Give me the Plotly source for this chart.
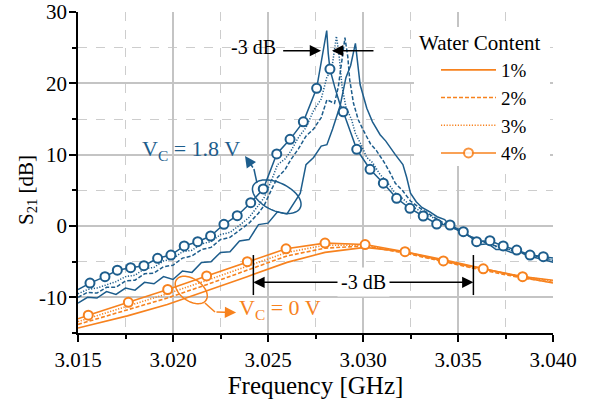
import numpy as np
import plotly.graph_objects as go

BLUE = "#1d5d8c"
ORANGE = "#f7821e"
FONT = "Liberation Serif, Times New Roman, serif"

# ---------------- data: V_C = 1.8 V (blue) ----------------
b1_x = [3.0150, 3.0155, 3.0160, 3.0165, 3.0170, 3.0175, 3.0180, 3.0185, 3.0190, 3.0195,
        3.0200, 3.0205, 3.0210, 3.0215, 3.0220, 3.0225, 3.0230, 3.0235, 3.0240, 3.0245,
        3.0250, 3.0255, 3.0260, 3.0263, 3.0267, 3.0270, 3.0274, 3.0278, 3.0281, 3.0284,
        3.0288, 3.0291, 3.02935, 3.0296, 3.02985, 3.0302, 3.0305, 3.0309, 3.0312, 3.0317,
        3.0321, 3.0323, 3.0325, 3.0328, 3.0331, 3.0335, 3.0339, 3.0343, 3.0346, 3.0350,
        3.0355, 3.0359, 3.0362, 3.0366, 3.0370, 3.0374, 3.0378, 3.0383, 3.0387, 3.0391,
        3.0395, 3.0400]
b1_y = [-10.8, -10.0, -10.1, -9.2, -9.6, -8.7, -9.0, -7.9, -8.1, -7.1,
        -7.5, -6.3, -6.5, -5.1, -5.0, -3.7, -3.6, -2.1, -1.9, 0.2,
        0.4, 2.0, 1.7, 2.9, 4.6, 8.6, 9.6, 11.2, 11.4, 13.6,
        16.9, 20.8, 22.5, 25.6, 19.8, 16.5, 14.6, 12.8, 11.9, 10.0,
        8.6, 6.8, 4.6, 3.4, 2.6, 2.0, 1.3, 0.9, -0.1, -0.5,
        -1.3, -1.9, -2.6, -2.5, -3.3, -3.3, -3.7, -3.7, -4.2, -4.4,
        -4.7, -5.1]

b2_x = [3.0150, 3.0155, 3.0160, 3.0165, 3.0170, 3.0175, 3.0180, 3.0185, 3.0190, 3.0195,
        3.0200, 3.0205, 3.0210, 3.0215, 3.0220, 3.0225, 3.0230, 3.0235, 3.0240, 3.0245,
        3.0248, 3.0252, 3.0255, 3.0259, 3.0262, 3.0266, 3.0270, 3.0274, 3.0278, 3.0281,
        3.0285, 3.0287, 3.0289, 3.02905, 3.0292, 3.0293, 3.0295, 3.02975, 3.0300, 3.0304,
        3.0307, 3.0311, 3.0314, 3.0317, 3.0321, 3.0325, 3.0330, 3.0335, 3.0340, 3.0345,
        3.0350, 3.0355, 3.0360, 3.0365, 3.0370, 3.0375, 3.0380, 3.0385, 3.0390, 3.0395,
        3.0400]
b2_y = [-10.0, -9.3, -9.4, -8.6, -8.6, -7.7, -7.6, -6.7, -6.6, -5.7,
        -5.5, -4.5, -4.2, -3.3, -3.0, -1.9, -1.6, -0.6, 0.4, 1.8,
        2.9, 5.2, 6.8, 7.9, 9.3, 10.8, 12.6, 13.6, 15.2, 17.7,
        17.2, 19.5, 23.3, 26.4, 23.7, 20.5, 17.2, 14.9, 13.5, 11.5,
        10.6, 9.0, 7.6, 6.0, 4.9, 3.5, 2.5, 1.6, 0.8, 0.1,
        -0.6, -1.3, -1.8, -2.4, -2.8, -3.2, -3.5, -3.9, -4.1, -4.5,
        -4.8]

b3_x = [3.0150, 3.0155, 3.0160, 3.0165, 3.0170, 3.0175, 3.0180, 3.0185, 3.0190, 3.0195,
        3.0200, 3.0205, 3.0210, 3.0215, 3.0220, 3.0225, 3.0230, 3.0235, 3.0240, 3.0245,
        3.0248, 3.0252, 3.0255, 3.0259, 3.0262, 3.0266, 3.0270, 3.0274, 3.0278, 3.0281,
        3.02835, 3.0286, 3.02873, 3.0289, 3.0291, 3.0294, 3.0296, 3.0299, 3.0302, 3.0305,
        3.0309, 3.0312, 3.0317, 3.0321, 3.0325, 3.0330, 3.0335, 3.0340, 3.0345, 3.0350,
        3.0355, 3.0360, 3.0365, 3.0370, 3.0375, 3.0380, 3.0385, 3.0390, 3.0395, 3.0400]
b3_y = [-9.5, -8.9, -8.7, -8.2, -7.8, -7.1, -6.9, -6.0, -5.8, -4.9,
        -4.6, -3.6, -3.4, -2.5, -2.2, -1.2, -0.9, 0.1, 1.2, 2.9,
        4.0, 6.5, 8.6, 9.4, 10.5, 12.4, 13.8, 16.2, 17.8, 20.9,
        21.9, 26.6, 24.2, 19.5, 16.7, 14.9, 13.0, 11.4, 9.6, 8.9,
        7.2, 6.4, 4.6, 3.8, 2.9, 2.1, 1.5, 0.6, 0.0, -0.7,
        -1.2, -2.0, -2.2, -2.9, -3.1, -3.6, -3.8, -4.2, -4.4, -4.9]

b4_x = [3.0150, 3.01563, 3.01642, 3.01707, 3.01777, 3.01847, 3.01919, 3.01989, 3.02059, 3.0213,
        3.02198, 3.02268, 3.02338, 3.02409, 3.02475, 3.02546, 3.02616, 3.02686, 3.02756, 3.02782,
        3.02798, 3.02809, 3.02817, 3.02826, 3.02851, 3.02877, 3.02896, 3.02967, 3.03037, 3.03107,
        3.03177, 3.03247, 3.03317, 3.03388, 3.03458, 3.03528, 3.03598, 3.03668, 3.03738, 3.03809,
        3.03879, 3.03949, 3.0400]
b4_y = [-8.9, -8.0, -7.1, -6.2, -5.85, -5.57, -4.53, -4.07, -2.8, -2.2,
        -1.4, 0.24, 1.44, 3.27, 5.19, 10.1, 12.15, 14.6, 19.3, 23.3,
        26.0, 27.4, 24.2, 22.0, 19.5, 17.2, 16.0, 10.75, 7.95, 6.0,
        3.88, 2.48, 1.4, 0.28, 0.14, -0.8, -2.2, -2.06, -2.8, -3.37,
        -4.07, -4.3, -4.5]
# measured samples drawn as circles on the 4 % curve
b4m_x = [3.01563, 3.01642, 3.01707, 3.01777, 3.01847, 3.01919, 3.01989, 3.02059, 3.0213,
         3.02198, 3.02268, 3.02338, 3.02409, 3.02475, 3.02546, 3.02616, 3.02686, 3.02756,
         3.02826, 3.02896, 3.02967, 3.03037, 3.03107, 3.03177, 3.03247, 3.03317, 3.03388,
         3.03458, 3.03528, 3.03598, 3.03668, 3.03738, 3.03809, 3.03879, 3.03949]
b4m_y = [-8.0, -7.1, -6.2, -5.85, -5.57, -4.53, -4.07, -2.8, -2.2,
         -1.4, 0.24, 1.44, 3.27, 5.19, 10.1, 12.15, 14.6, 19.3,
         22.0, 16.0, 10.75, 7.95, 6.0, 3.88, 2.48, 1.4, 0.28,
         0.14, -0.8, -2.2, -2.06, -2.8, -3.37, -4.07, -4.3]

# ---------------- data: V_C = 0 V (orange) ----------------
o_x = [3.0150, 3.0176, 3.0197, 3.0218, 3.0239, 3.0260, 3.0280, 3.0301, 3.0322, 3.0342,
       3.0363, 3.0384, 3.0400]
o1_y = [-14.3, -12.6, -11.0, -9.1, -7.1, -5.1, -3.7, -3.0, -3.6, -4.7, -6.0, -7.2, -8.0]
o2_y = [-13.8, -11.8, -10.1, -8.2, -6.2, -4.2, -3.1, -2.8, -3.8, -5.0, -6.2, -7.3, -7.9]
o3_y = [-13.4, -11.3, -9.5, -7.6, -5.6, -3.7, -2.7, -2.7, -3.7, -4.9, -6.1, -7.1, -7.7]
o4_x = [3.0150, 3.01554, 3.01765, 3.01972, 3.02177, 3.02391, 3.02595, 3.0280, 3.03011,
        3.03221, 3.03423, 3.03633, 3.0384, 3.0400]
o4_y = [-13.0, -12.5, -10.7, -8.9, -7.0, -5.0, -3.2, -2.4, -2.6, -3.6, -4.9, -6.0, -7.1, -7.6]

legend_names = ["1%", "2%", "3%", "4%"]
legend_title = "Water Content"
x_ticks = [3.015, 3.020, 3.025, 3.030, 3.035, 3.040]
y_ticks = [-10, 0, 10, 20, 30]
y_tick_text = ["-10", "0", "10", "20", "30"]

# ---------------- figure ----------------
X0, X1, Y0, Y1 = 3.015, 3.040, -15, 30
ML, MR, MT, MB = 78, 42, 12, 68
W, H = 595, 401
PW, PH = W - ML - MR, H - MT - MB
PXX = PW / (X1 - X0)
PXY = PH / (Y1 - Y0)


def px_paper_x(px):
    return (px - ML) / PW


def px_paper_y(py):
    return (H - MB - py) / PH


DASH = "4px,2px"
DOT = "1.2px,1.6px"

fig = go.Figure()

# orange curves
for xs, ys, dash, name in [(o_x, o1_y, "solid", legend_names[0]),
                            (o_x, o2_y, DASH, legend_names[1]),
                            (o_x, o3_y, DOT, legend_names[2])]:
    fig.add_trace(go.Scatter(x=xs, y=ys, mode="lines", name=name,
                             line=dict(color=ORANGE, width=1.6, dash=dash)))
o4_op = [0] + [1] * (len(o4_x) - 2) + [0]
fig.add_trace(go.Scatter(x=o4_x, y=o4_y, mode="lines+markers", name=legend_names[3],
                         line=dict(color=ORANGE, width=1.6),
                         marker=dict(symbol="circle", size=9, color="white", opacity=o4_op,
                                     line=dict(color=ORANGE, width=2))))

# blue curves
for xs, ys, dash in [(b1_x, b1_y, "solid"), (b2_x, b2_y, DASH), (b3_x, b3_y, DOT), (b4_x, b4_y, "solid")]:
    fig.add_trace(go.Scatter(x=xs, y=ys, mode="lines", showlegend=False,
                             line=dict(color=BLUE, width=1.5, dash=dash)))
fig.add_trace(go.Scatter(x=b4m_x, y=b4m_y, mode="markers", showlegend=False,
                         marker=dict(symbol="circle", size=9, color="white",
                                     line=dict(color=BLUE, width=2))))


def ellipse_path(cx, cy, a_px, b_px, ang_deg):
    t = np.linspace(0, 2 * np.pi, 73)
    ang = np.deg2rad(ang_deg)
    dx = a_px * np.cos(t) * np.cos(ang) - b_px * np.sin(t) * np.sin(ang)
    dy = a_px * np.cos(t) * np.sin(ang) + b_px * np.sin(t) * np.cos(ang)
    xs = cx + dx / PXX
    ys = cy - dy / PXY
    pts = [f"{x:.6f},{y:.4f}" for x, y in zip(xs, ys)]
    return "M" + " L".join(pts) + " Z"


shapes = [
    # white legend background
    dict(type="rect", xref="paper", yref="paper", layer="above",
         x0=px_paper_x(414), x1=px_paper_x(550), y0=px_paper_y(166), y1=px_paper_y(27),
         fillcolor="white", line=dict(width=0)),
    dict(type="path", path=ellipse_path(3.02546, 4.11, 26, 14, 25), xref="x", yref="y",
         line=dict(color=BLUE, width=1.5)),
    dict(type="path", path=ellipse_path(3.02096, -8.97, 18, 11, 35), xref="x", yref="y",
         line=dict(color=ORANGE, width=1.5)),
    dict(type="line", x0=3.02442, y0=6.03, x1=3.02426, y1=7.99, xref="x", yref="y",
         line=dict(color=BLUE, width=1.5)),
    dict(type="line", x0=3.02168, y0=-10.8, x1=3.02221, y1=-12.06, xref="x", yref="y",
         line=dict(color=ORANGE, width=1.5)),
    dict(type="line", x0=3.02423, y0=-4.07, x1=3.02423, y1=-9.68, xref="x", yref="y",
         line=dict(color="black", width=1.5)),
    dict(type="line", x0=3.03581, y0=-4.07, x1=3.03581, y1=-9.68, xref="x", yref="y",
         line=dict(color="black", width=1.5)),
]


def arrow(x_head, y_head, x_tail, y_tail, color):
    return dict(x=x_head, y=y_head, ax=x_tail, ay=y_tail, xref="x", yref="y",
                axref="x", ayref="y", text="", showarrow=True, arrowhead=2,
                arrowsize=1.5, arrowwidth=1.5, arrowcolor=color, standoff=0, startstandoff=0)


annotations = [
    arrow(3.02779, 24.57, 3.02572, 24.57, "black"),
    arrow(3.02837, 24.57, 3.03063, 24.57, "black"),
    dict(x=3.02426, y=25.1, xref="x", yref="y", text="-3 dB", showarrow=False,
         font=dict(size=20, color="black")),
    arrow(3.02423, -7.9, 3.0300, -7.9, "black"),
    arrow(3.03581, -7.9, 3.0300, -7.9, "black"),
    dict(x=3.0300, y=-7.9, xref="x", yref="y", text="-3 dB", showarrow=False,
         bgcolor="white", borderpad=3, font=dict(size=20, color="black")),
    arrow(3.02379, 9.81, 3.02426, 7.99, BLUE),
    arrow(3.02332, -12.13, 3.02221, -12.06, ORANGE),
    dict(x=3.02095, y=10.65, xref="x", yref="y", text="V<sub>C</sub> = 1.8 V",
         showarrow=False, font=dict(size=22, color=BLUE)),
    dict(x=3.02563, y=-11.64, xref="x", yref="y", text="V<sub>C</sub> = 0 V",
         showarrow=False, font=dict(size=22, color=ORANGE)),
    # legend title
    dict(x=px_paper_x(480), y=px_paper_y(43), xref="paper", yref="paper",
         xanchor="center", yanchor="middle",
         text=legend_title, showarrow=False, font=dict(size=21, color="black")),
    # y-axis title
    dict(x=px_paper_x(27), y=px_paper_y(190), xref="paper", yref="paper",
         xanchor="center", yanchor="middle",
         text="S<sub>21</sub> [dB]", textangle=-90, showarrow=False,
         font=dict(size=21, color="black")),
]

fig.update_layout(
    width=W, height=H,
    margin=dict(l=ML, r=MR, t=MT, b=MB, pad=0, autoexpand=False),
    paper_bgcolor="white", plot_bgcolor="white",
    font=dict(family=FONT, size=21, color="black"),
    shapes=shapes, annotations=annotations,
    legend=dict(x=px_paper_x(436), y=px_paper_y(51), xanchor="left", yanchor="top",
                bgcolor="rgba(0,0,0,0)", borderwidth=0,
                font=dict(size=19), itemwidth=55, tracegroupgap=0),
)
grid_major = "#c4c4c4"
grid_minor = "#cdcdcd"
fig.update_xaxes(
    range=[X0, X1], tickvals=x_ticks, tickformat=".3f", automargin=False,
    ticks="outside", ticklen=7, tickwidth=1.5, tickcolor="black",
    showline=True, linecolor="black", linewidth=1.5, mirror=False,
    showgrid=True, gridcolor=grid_major, gridwidth=1.5, zeroline=False,
    minor=dict(dtick=0.0025, tick0=3.015, ticks="outside", ticklen=4, tickcolor="black",
               showgrid=True, gridcolor=grid_minor, griddash="dash", gridwidth=1),
    title=dict(text="Frequency [GHz]", standoff=4),
)
fig.update_yaxes(
    range=[Y0, Y1], tickvals=y_ticks, ticktext=y_tick_text, automargin=False,
    ticks="outside", ticklen=7, tickwidth=1.5, tickcolor="black", ticklabelstandoff=-2,
    showline=True, linecolor="black", linewidth=1.5, mirror=False,
    showgrid=True, gridcolor=grid_major, gridwidth=1.5, zeroline=False,
    minor=dict(dtick=5, tick0=0, ticks="outside", ticklen=4, tickcolor="black",
               showgrid=True, gridcolor=grid_minor, griddash="dash", gridwidth=1),
)

fig.write_html("out.html")
